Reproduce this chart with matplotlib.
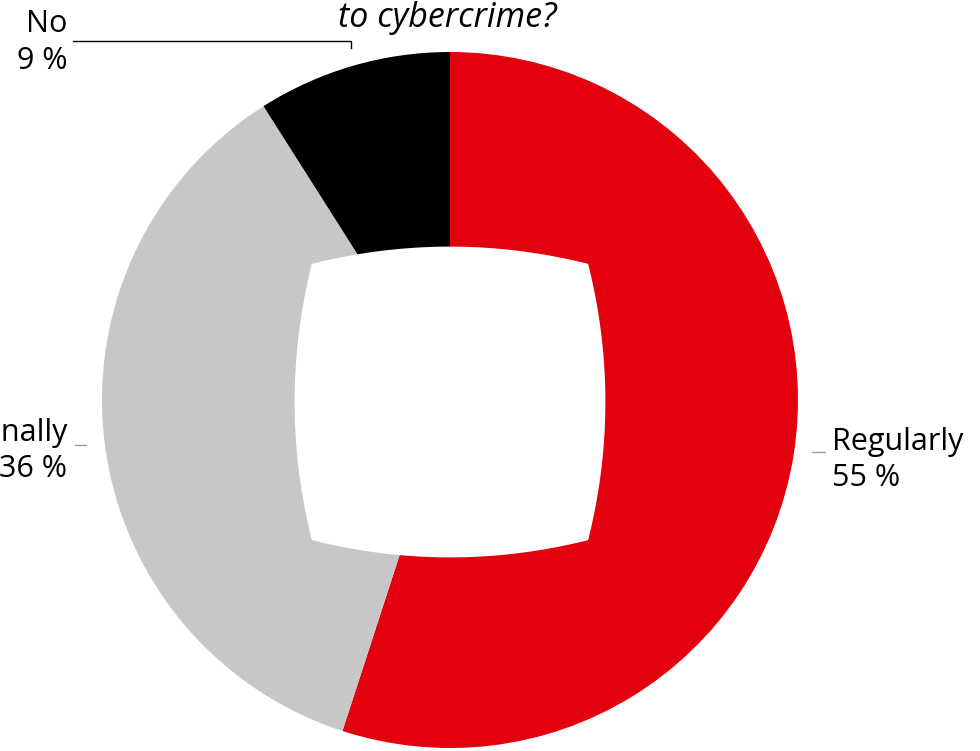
import numpy as np
import matplotlib
matplotlib.use("Agg")
import matplotlib.pyplot as plt
from matplotlib.patches import Polygon

# data
categories = ["Regularly", "Occasionally", "No"]
shares = [55, 36, 9]
colors = ["#E3000F", "#C6C7C6", "#000000"]
title = "to cybercrime?"

W, H = 980, 751
plt.rcParams['font.family'] = ['Open Sans', 'DejaVu Sans']

fig = plt.figure(figsize=(W / 100, H / 100), dpi=100)
ax = fig.add_axes([0, 0, 1, 1])

cx, cy = 450, H - 400
radius = 348

ax.pie(shares, colors=colors, startangle=90, counterclock=False,
       radius=radius, center=(cx, cy), frame=True,
       wedgeprops=dict(linewidth=0))
ax.set_xlim(0, W)
ax.set_ylim(0, H)
ax.set_aspect('equal')
ax.axis('off')


def curved_square(cx, cy, half, bulge, n=60):
    """square-ish hole whose sides bow outwards"""
    t = np.linspace(-1, 1, n)
    side = half + bulge * (1 - t ** 2)
    pts = []
    # top, right, bottom, left
    pts += list(zip(cx + half * t, cy + side))
    pts += list(zip(cx + side, cy - half * t))
    pts += list(zip(cx - half * t, cy - side))
    pts += list(zip(cx - side, cy + half * t))
    return np.array(pts)


hole = Polygon(curved_square(cx, cy - 2, 137, 17), closed=True,
               facecolor="white", edgecolor="white", lw=2, joinstyle="round")
ax.add_patch(hole)

fs = 22
# title (only the last line is in view)
ax.text(447, H - 27, title, fontsize=24.5, style='italic', ha='center',
        va='baseline', color='black')

# labels
ax.text(832, H - 450, categories[0], fontsize=fs, ha='left', va='baseline')
ax.text(832, H - 486, "%d %%" % shares[0], fontsize=fs, ha='left', va='baseline')
ax.plot([812, 825], [H - 452, H - 452], color='#9a9a9a', lw=1)

ax.text(67, H - 441, categories[1], fontsize=fs, ha='right', va='baseline')
ax.text(67, H - 477, "%d %%" % shares[1], fontsize=fs, ha='right', va='baseline')
ax.plot([75, 86], [H - 445, H - 445], color='#9a9a9a', lw=1)

ax.text(67, H - 32, categories[2], fontsize=fs, ha='right', va='baseline')
ax.text(67, H - 69, "%d %%" % shares[2], fontsize=fs, ha='right', va='baseline')
ax.plot([73, 351, 351], [H - 41, H - 41, H - 48], color='black', lw=1)

fig.savefig("out.png", dpi=100)
